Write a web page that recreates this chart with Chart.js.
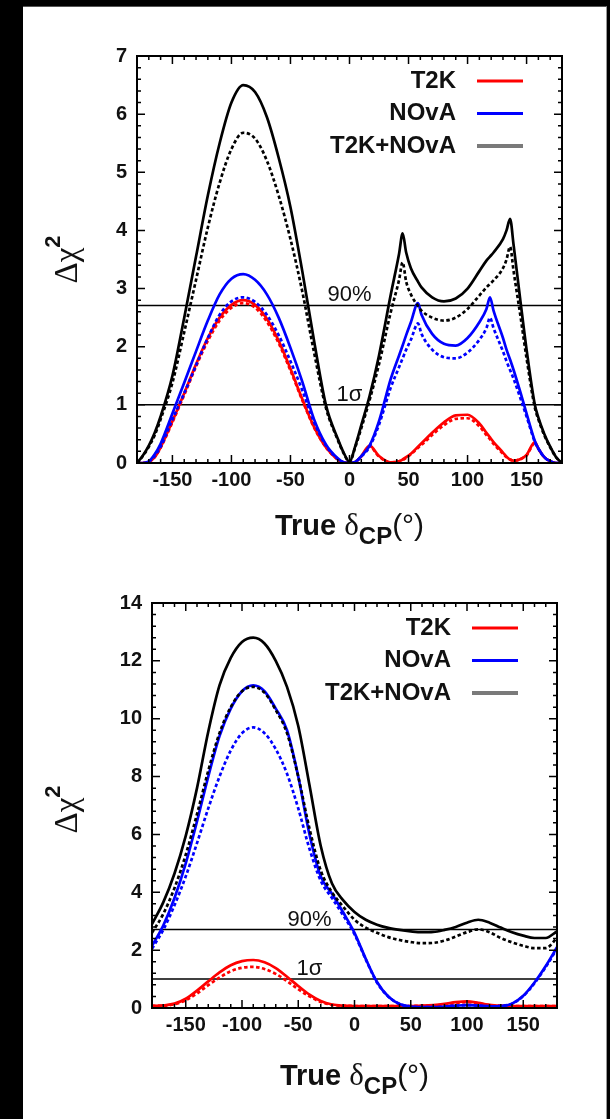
<!DOCTYPE html>
<html>
<head>
<meta charset="utf-8">
<script src="https://cdn.jsdelivr.net/npm/chart.js@4.4.1/dist/chart.umd.min.js"></script>
<style>
  html, body { margin: 0; padding: 0; background: #000; width: 610px; height: 1119px; overflow: hidden; }
  #sheet { position: absolute; left: 23px; top: 6px; width: 583px; height: 1113px; background: #fff;
           border-top: 1px solid #555; border-right: 1px solid #999; }
  canvas { position: absolute; left: 0; }
  #upper { top: 0; }
  #lower { top: 560px; }
</style>
</head>
<body>
<div id="sheet"></div>
<canvas id="upper" width="610" height="560"></canvas>
<canvas id="lower" width="610" height="559"></canvas>
<script>
// ---- Upper panel: delta_CP grid (degrees) and Δχ² curves ----
const deltaTop = [-180,-175,-170,-165,-160,-150,-140,-130,-120,-110,-100,-90,-80,-70,-60,-50,-40,-30,-20,-10,-5,0,5,10,17,25,35,42,45,48,52,58,61,70,80,90,100,110,116,119,122,130,133,136,139,145,150,157,160,165,170,175,180];
const comboTopSolid  = [0,0.13,0.3,0.52,0.8,1.5,2.5,3.55,4.6,5.5,6.2,6.5,6.38,5.95,5.25,4.4,3.3,2.1,1.0,0.42,0.18,0.02,0.3,0.65,1.15,1.85,2.9,3.6,3.95,3.62,3.35,3.12,3.02,2.85,2.78,2.83,3.0,3.3,3.48,3.55,3.62,3.85,4.0,4.2,3.75,2.75,1.95,1.0,0.78,0.5,0.28,0.1,0];
const comboTopDashed = [0,0.12,0.28,0.48,0.75,1.38,2.25,3.15,4.05,4.82,5.4,5.68,5.58,5.2,4.6,3.85,2.95,1.9,0.95,0.4,0.17,0.02,0.28,0.6,1.08,1.7,2.6,3.15,3.45,3.12,2.9,2.7,2.62,2.5,2.45,2.5,2.65,2.88,3.02,3.08,3.14,3.35,3.5,3.72,3.3,2.5,1.8,0.95,0.75,0.48,0.27,0.1,0];
const novaTopSolid   = [0,0,0.03,0.15,0.33,0.85,1.38,1.92,2.45,2.9,3.17,3.25,3.15,2.9,2.5,1.98,1.4,0.75,0.32,0.08,0.01,0,0.02,0.12,0.3,0.72,1.45,1.85,2.02,2.2,2.42,2.75,2.55,2.22,2.05,2.02,2.15,2.42,2.65,2.85,2.62,2.15,1.95,1.78,1.6,1.2,0.85,0.38,0.25,0.1,0.03,0,0];
const novaTopDashed  = [0,0,0.02,0.12,0.28,0.75,1.2,1.68,2.15,2.55,2.78,2.85,2.77,2.55,2.2,1.75,1.25,0.7,0.3,0.07,0.01,0,0.02,0.11,0.28,0.66,1.3,1.65,1.8,1.95,2.12,2.4,2.22,1.95,1.82,1.8,1.9,2.12,2.32,2.5,2.32,1.92,1.75,1.6,1.45,1.1,0.8,0.36,0.24,0.1,0.03,0,0];
const t2kTopSolid    = [0,0,0.02,0.1,0.27,0.72,1.2,1.7,2.15,2.5,2.72,2.8,2.72,2.48,2.1,1.62,1.1,0.62,0.27,0.06,0.01,0,0.02,0.12,0.3,0.12,0.01,0.03,0.06,0.1,0.16,0.28,0.34,0.52,0.7,0.82,0.83,0.68,0.52,0.44,0.36,0.18,0.11,0.06,0.04,0.07,0.14,0.36,0.25,0.1,0.03,0,0];
const t2kTopDashed   = [0,0,0.02,0.1,0.26,0.7,1.17,1.66,2.1,2.45,2.67,2.75,2.67,2.43,2.06,1.59,1.08,0.61,0.27,0.06,0.01,0,0.02,0.11,0.28,0.11,0.01,0.03,0.05,0.09,0.15,0.26,0.31,0.48,0.65,0.76,0.77,0.63,0.48,0.41,0.33,0.16,0.1,0.06,0.04,0.07,0.13,0.34,0.24,0.1,0.03,0,0];

// ---- Lower panel ----
const deltaBottom = [-180,-170,-160,-150,-140,-130,-120,-110,-100,-90,-80,-70,-60,-50,-40,-30,-20,-10,0,10,20,30,40,50,60,70,80,90,100,110,120,130,140,150,160,170,180];
const comboBottomSolid  = [2.9,3.65,4.65,5.95,7.6,9.55,11.15,12.1,12.65,12.8,12.6,12.0,11.1,9.75,7.7,5.6,4.3,3.72,3.32,3.05,2.88,2.77,2.7,2.65,2.62,2.63,2.7,2.8,2.95,3.05,2.95,2.78,2.62,2.5,2.42,2.42,2.65];
const comboBottomDashed = [2.6,3.25,4.15,5.3,6.7,8.2,9.5,10.4,10.95,11.1,10.9,10.3,9.5,8.0,6.2,4.75,4.0,3.5,3.05,2.78,2.6,2.45,2.35,2.28,2.24,2.25,2.33,2.47,2.62,2.72,2.62,2.42,2.27,2.15,2.07,2.07,2.42];
const novaBottomSolid   = [2.15,2.85,3.8,5.0,6.45,8.0,9.4,10.35,10.95,11.15,10.95,10.35,9.6,8.0,6.0,4.55,3.95,3.3,2.6,1.7,0.9,0.4,0.14,0.05,0.03,0.03,0.05,0.08,0.1,0.08,0.06,0.07,0.15,0.42,0.88,1.45,2.1];
const novaBottomDashed  = [2.05,2.7,3.55,4.55,5.7,6.9,8.0,8.9,9.5,9.7,9.5,8.95,8.1,6.9,5.5,4.4,3.8,3.2,2.55,1.68,0.88,0.4,0.14,0.05,0.03,0.03,0.05,0.08,0.1,0.08,0.06,0.07,0.15,0.41,0.86,1.42,2.05];
const t2kBottomSolid    = [0.07,0.09,0.15,0.32,0.6,0.92,1.23,1.48,1.62,1.66,1.58,1.38,1.08,0.76,0.46,0.24,0.12,0.08,0.07,0.07,0.07,0.07,0.07,0.07,0.08,0.1,0.14,0.2,0.23,0.18,0.11,0.08,0.07,0.07,0.07,0.07,0.07];
const t2kBottomDashed   = [0.07,0.08,0.13,0.27,0.5,0.79,1.05,1.27,1.39,1.42,1.35,1.18,0.93,0.65,0.4,0.21,0.11,0.08,0.07,0.07,0.07,0.07,0.07,0.07,0.08,0.09,0.12,0.17,0.2,0.16,0.1,0.08,0.07,0.07,0.07,0.07,0.07];

// ---- Shared axis ticks, confidence levels, legend ----
const xTickValues = [-150, -100, -50, 0, 50, 100, 150];
const yTicksTop = [0, 1, 2, 3, 4, 5, 6, 7];
const yTicksBottom = [0, 2, 4, 6, 8, 10, 12, 14];
const levelValues = [2.71, 1.0];
const levelNames = ['90%', '1σ'];
const seriesNames = ['T2K', 'NOvA', 'T2K+NOvA'];
const seriesColors = ['#ff0000', '#0000ff', '#000000'];
const legendColors = ['#ff0000', '#0000ff', '#7a7a7a'];

const SANS = '"Liberation Sans", Arial, sans-serif';
const SERIF = '"Liberation Serif", "DejaVu Serif", serif';

function curve(delta, values, color, dashed) {
  return {
    data: delta.map((d, i) => ({ x: d, y: values[i] })),
    borderColor: color,
    borderWidth: 2.7,
    borderDash: dashed ? [3.5, 2.5] : [],
    pointRadius: 0,
    cubicInterpolationMode: 'monotone',
    fill: false
  };
}

function levelLine(v) {
  return {
    data: [{ x: -180, y: v }, { x: 180, y: v }],
    borderColor: '#000',
    borderWidth: 1.5,
    pointRadius: 0,
    fill: false
  };
}

// draws a run of text pieces with individual fonts and vertical offsets
function drawRun(ctx, parts, x, y) {
  let total = 0;
  parts.forEach(p => { ctx.font = p.font; p.w = ctx.measureText(p.text).width; total += p.w; });
  let cx = x - total / 2;
  parts.forEach(p => {
    ctx.font = p.font;
    ctx.fillText(p.text, cx, y + (p.dy || 0));
    cx += p.w;
  });
}

// frame, inward tick marks, level labels, legend and axis titles
const decor = {
  id: 'decor',
  afterDatasetsDraw(chart, _args, o) {
    const { ctx, chartArea: a } = chart;
    const xs = chart.scales.x, ys = chart.scales.y;
    ctx.save();
    ctx.strokeStyle = '#000';
    ctx.lineWidth = 1.5;
    ctx.beginPath();
    for (let v = -170; v <= 170; v += 10) {
      const len = v % 50 === 0 ? 8 : 4;
      const px = xs.getPixelForValue(v);
      ctx.moveTo(px, a.bottom); ctx.lineTo(px, a.bottom - len);
      ctx.moveTo(px, a.top); ctx.lineTo(px, a.top + len);
    }
    const n = Math.round(o.yMax / o.yMinor);
    for (let k = 1; k < n; k++) {
      const v = k * o.yMinor;
      const r = v / o.yMajor;
      const len = Math.abs(r - Math.round(r)) < 1e-6 ? 8 : 4;
      const py = ys.getPixelForValue(v);
      ctx.moveTo(a.left, py); ctx.lineTo(a.left + len, py);
      ctx.moveTo(a.right, py); ctx.lineTo(a.right - len, py);
    }
    ctx.stroke();
    ctx.lineWidth = 2;
    ctx.strokeRect(a.left, a.top, a.right - a.left, a.bottom - a.top);

    // confidence level labels
    ctx.fillStyle = '#111';
    ctx.textAlign = 'center';
    ctx.textBaseline = 'alphabetic';
    ctx.font = '22px ' + SANS;
    levelValues.forEach((v, i) => {
      ctx.fillText(levelNames[i], xs.getPixelForValue(o.levelLabelAt), ys.getPixelForValue(v) - 4);
    });

    // legend: text right-aligned, sample line to its right
    ctx.font = 'bold 24px ' + SANS;
    ctx.textAlign = 'right';
    ctx.textBaseline = 'middle';
    seriesNames.forEach((name, i) => {
      const yy = a.top + 25 + i * 32.5;
      ctx.fillStyle = '#111';
      ctx.fillText(name, a.right - 106, yy);
      ctx.strokeStyle = legendColors[i];
      ctx.lineWidth = i === 2 ? 4 : 3;
      ctx.beginPath();
      ctx.moveTo(a.right - 85, yy);
      ctx.lineTo(a.right - 39, yy);
      ctx.stroke();
    });

    // x-axis title: True δ_CP(°)
    ctx.fillStyle = '#111';
    ctx.textAlign = 'left';
    ctx.textBaseline = 'alphabetic';
    drawRun(ctx, [
      { text: 'True ', font: 'bold 29px ' + SANS },
      { text: 'δ', font: '31px ' + SERIF },
      { text: 'CP', font: 'bold 24px ' + SANS, dy: 9 },
      { text: '(°)', font: '30px ' + SANS }
    ], (a.left + a.right) / 2, a.bottom + o.xTitleGap);

    // y-axis title: Δχ²
    ctx.save();
    ctx.translate(o.yTitleX, (a.top + a.bottom) / 2 + o.yTitleShift);
    ctx.rotate(-Math.PI / 2);
    ctx.textBaseline = 'middle';
    drawRun(ctx, [
      { text: 'Δχ', font: '33px ' + SERIF },
      { text: '2', font: 'bold 22px ' + SANS, dy: -14 }
    ], 0, 0);
    ctx.restore();
    ctx.restore();
  }
};

function panel(id, delta, s, yTicks, opts) {
  return new Chart(document.getElementById(id), {
    type: 'line',
    data: {
      datasets: [
        curve(delta, s.comboSolid, seriesColors[2], false),
        curve(delta, s.comboDashed, seriesColors[2], true),
        curve(delta, s.novaSolid, seriesColors[1], false),
        curve(delta, s.novaDashed, seriesColors[1], true),
        curve(delta, s.t2kSolid, seriesColors[0], false),
        curve(delta, s.t2kDashed, seriesColors[0], true),
        levelLine(levelValues[0]),
        levelLine(levelValues[1])
      ]
    },
    options: {
      responsive: false,
      animation: false,
      devicePixelRatio: 1,
      layout: { padding: { top: opts.padTop, right: opts.padRight, left: 0, bottom: 0 } },
      plugins: {
        legend: { display: false },
        tooltip: { enabled: false },
        decor: opts.decor
      },
      scales: {
        x: {
          type: 'linear', min: -180, max: 180,
          grid: { display: false, drawTicks: false },
          border: { display: false },
          afterBuildTicks: sc => { sc.ticks = xTickValues.map(v => ({ value: v })); },
          afterFit: sc => { sc.height = opts.xAxisH; },
          ticks: {
            autoSkip: false, maxRotation: 0, padding: 5, color: '#111',
            font: { family: SANS, weight: 'bold', size: 20 },
            callback: v => String(v)
          }
        },
        y: {
          type: 'linear', min: 0, max: yTicks[yTicks.length - 1],
          grid: { display: false, drawTicks: false },
          border: { display: false },
          afterBuildTicks: sc => { sc.ticks = yTicks.map(v => ({ value: v })); },
          afterFit: sc => { sc.width = opts.yAxisW; },
          ticks: {
            padding: 10, color: '#111',
            font: { family: SANS, weight: 'bold', size: 20 },
            callback: v => String(v)
          }
        }
      }
    },
    plugins: [decor]
  });
}

panel('upper', deltaTop, {
  comboSolid: comboTopSolid, comboDashed: comboTopDashed,
  novaSolid: novaTopSolid, novaDashed: novaTopDashed,
  t2kSolid: t2kTopSolid, t2kDashed: t2kTopDashed
}, yTicksTop, {
  padTop: 56, padRight: 48, xAxisH: 97, yAxisW: 137,
  decor: { yMax: 7, yMajor: 1, yMinor: 0.2, levelLabelAt: 0, xTitleGap: 72, yTitleX: 68, yTitleShift: 0 }
});

panel('lower', deltaBottom, {
  comboSolid: comboBottomSolid, comboDashed: comboBottomDashed,
  novaSolid: novaBottomSolid, novaDashed: novaBottomDashed,
  t2kSolid: t2kBottomSolid, t2kDashed: t2kBottomDashed
}, yTicksBottom, {
  padTop: 43, padRight: 53, xAxisH: 111, yAxisW: 152,
  decor: { yMax: 14, yMajor: 2, yMinor: 0.4, levelLabelAt: -40, xTitleGap: 77, yTitleX: 68, yTitleShift: 4 }
});
</script>
</body>
</html>
